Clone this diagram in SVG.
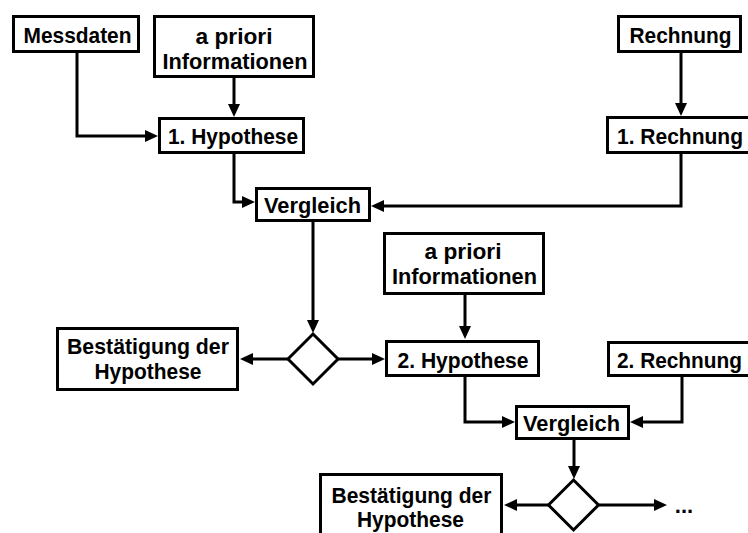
<svg xmlns="http://www.w3.org/2000/svg" width="748" height="533" viewBox="0 0 748 533">
<style>
.box{fill:#fff;stroke:#000;stroke-width:3}
.t{font-family:"Liberation Sans",Arial,sans-serif;font-weight:bold;font-size:22px;fill:#000;text-anchor:middle}
.c{fill:none;stroke:#000;stroke-width:3;marker-end:url(#ah)}
</style>
<defs>
<marker id="ah" markerUnits="userSpaceOnUse" markerWidth="13" markerHeight="12" viewBox="0 0 13 12" refX="5" refY="6" orient="auto">
<path d="M0,0 L13,6 L0,12 z" fill="#000"/>
</marker>
</defs>
<rect width="748" height="533" fill="#fff"/>
<g id="connectors">
<path class="c" d="M77,53 V136 H150"/>
<path class="c" d="M234,78 V109"/>
<path class="c" d="M681,53 V108"/>
<path class="c" d="M234,154 V202 H247"/>
<path class="c" d="M681,154 V206 H379"/>
<path class="c" d="M313,222 V325"/>
<path class="c" d="M288,359 H248"/>
<path class="c" d="M338,359 H377"/>
<path class="c" d="M465,295 V331"/>
<path class="c" d="M465,377 V422 H507"/>
<path class="c" d="M682,377 V422 H638"/>
<path class="c" d="M574,440 V471"/>
<path class="c" d="M548.5,505 H512"/>
<path class="c" d="M598.5,505 H659"/>
</g>
<g id="messdaten"><rect class="box" x="13.5" y="16.5" width="125" height="35"/><text class="t" x="77.5" y="43" textLength="108" lengthAdjust="spacingAndGlyphs">Messdaten</text></g>
<g id="apriori1"><rect class="box" x="154.5" y="16.5" width="159" height="60"/><text class="t" x="234" y="44" textLength="77" lengthAdjust="spacingAndGlyphs">a priori</text><text class="t" x="235" y="68.5" textLength="145" lengthAdjust="spacingAndGlyphs">Informationen</text></g>
<g id="rechnung"><rect class="box" x="618.5" y="16.5" width="122" height="35"/><text class="t" x="680.5" y="43" textLength="102" lengthAdjust="spacingAndGlyphs">Rechnung</text></g>
<g id="hyp1"><rect class="box" x="159.5" y="118.5" width="144" height="34"/><text class="t" x="233" y="144" textLength="130" lengthAdjust="spacingAndGlyphs">1. Hypothese</text></g>
<g id="rechnung1"><rect class="box" x="607.5" y="117.5" width="160" height="35"/><text class="t" x="680" y="144" textLength="126" lengthAdjust="spacingAndGlyphs">1. Rechnung</text></g>
<g id="vergleich1"><rect class="box" x="256.5" y="188.5" width="113" height="32"/><text class="t" x="312.5" y="213" textLength="97" lengthAdjust="spacingAndGlyphs">Vergleich</text></g>
<g id="decision1"><polygon class="box" points="313,334 338,359 313,384 288,359"/></g>
<g id="bestaetigung1"><rect class="box" x="57.5" y="328.5" width="180" height="61"/><text class="t" x="148" y="354" textLength="162" lengthAdjust="spacingAndGlyphs">Bestätigung der</text><text class="t" x="148" y="379" textLength="107" lengthAdjust="spacingAndGlyphs">Hypothese</text></g>
<g id="apriori2"><rect class="box" x="384.5" y="233.5" width="159" height="60"/><text class="t" x="463" y="259" textLength="77" lengthAdjust="spacingAndGlyphs">a priori</text><text class="t" x="464.5" y="283.5" textLength="145" lengthAdjust="spacingAndGlyphs">Informationen</text></g>
<g id="hyp2"><rect class="box" x="386.5" y="341.5" width="152" height="34"/><text class="t" x="463" y="367.5" textLength="131" lengthAdjust="spacingAndGlyphs">2. Hypothese</text></g>
<g id="rechnung2"><rect class="box" x="608.5" y="342.5" width="160" height="33"/><text class="t" x="679.5" y="368" textLength="125" lengthAdjust="spacingAndGlyphs">2. Rechnung</text></g>
<g id="vergleich2"><rect class="box" x="516.5" y="406.5" width="112" height="32"/><text class="t" x="571.5" y="431" textLength="97" lengthAdjust="spacingAndGlyphs">Vergleich</text></g>
<g id="decision2"><polygon class="box" points="573.5,480 598.5,505 573.5,530 548.5,505"/></g>
<g id="bestaetigung2"><rect class="box" x="320.5" y="474.5" width="181" height="80"/><text class="t" x="411.5" y="503" textLength="160" lengthAdjust="spacingAndGlyphs">Bestätigung der</text><text class="t" x="410.5" y="527" textLength="107" lengthAdjust="spacingAndGlyphs">Hypothese</text></g>
<g id="more"><text class="t" x="684" y="513">...</text></g>
</svg>
